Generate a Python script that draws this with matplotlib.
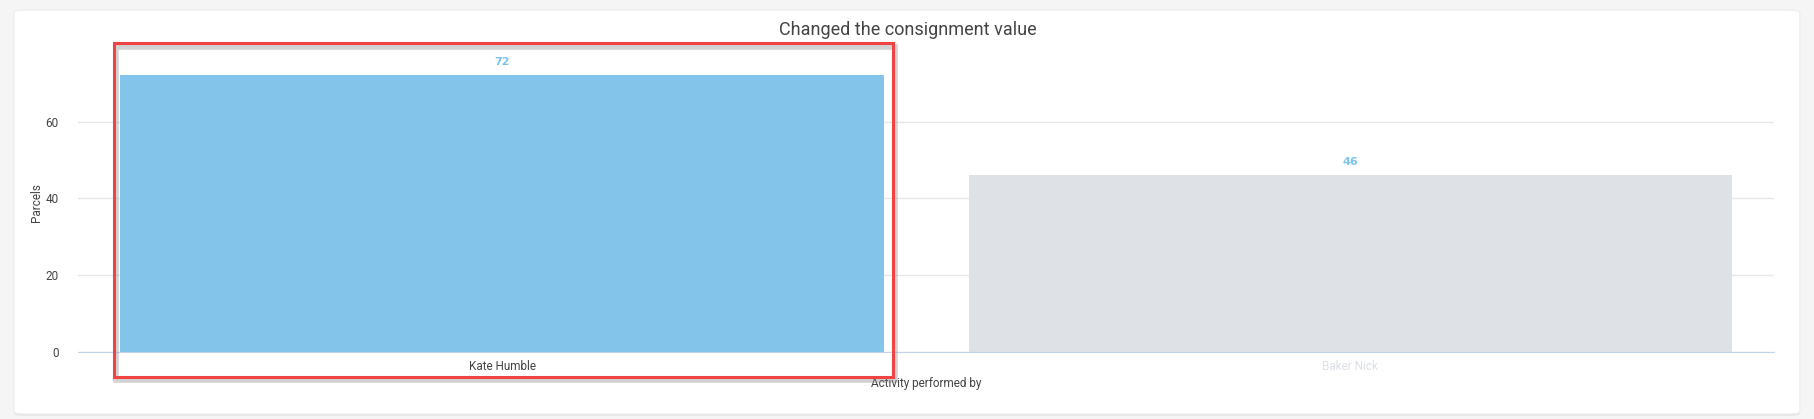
import matplotlib.pyplot as plt
import matplotlib.patheffects as pe
from matplotlib.patches import FancyBboxPatch, Rectangle

plt.rcParams['font.family'] = ['Roboto', 'DejaVu Sans']

title = "Changed the consignment value"
people = ["Kate Humble", "Baker Nick"]
parcels = [72, 46]
bar_colors = ["#83c5ea", "#dee1e6"]
tick_colors = ["#444444", "#dde0e6"]
yticks = [0, 20, 40, 60]

fig = plt.figure(figsize=(18.15, 4.19), dpi=100)
fig.patch.set_facecolor("#f5f5f5")

# white card behind the chart
card = FancyBboxPatch((0.0077, 0.012), 0.984, 0.964, boxstyle="round,pad=0,rounding_size=0.006",
                      transform=fig.transFigure, facecolor="white", edgecolor="#ececec",
                      linewidth=0.8, zorder=-5,
                      path_effects=[pe.SimplePatchShadow(offset=(0, -1.5), alpha=0.08), pe.Normal()])
fig.patches.append(card)

ax = fig.add_axes([0.043, 0.160, 0.9346, 0.715])
ax.set_facecolor("none")

x = range(len(people))
ax.bar(x, parcels, width=0.9, color=bar_colors, zorder=2)
for i, v in enumerate(parcels):
    ax.text(i, v + 2.2, str(v), ha="center", va="bottom", fontsize=8,
            fontweight="bold", family="DejaVu Sans", color="#7cc3ec", zorder=3)

ax.set_xlim(-0.5, len(people) - 0.5)
ax.set_ylim(0, 78)
ax.set_yticks(yticks)
ax.set_xticks(list(x))
ax.set_xticklabels(people)
ax.tick_params(axis="both", length=0, labelsize=8.5, colors="#444444")
ax.tick_params(axis="y", pad=14)
ax.tick_params(axis="x", pad=6)
for lbl, c in zip(ax.get_xticklabels(), tick_colors):
    lbl.set_color(c)

ax.grid(axis="y", color="#e6e6e6", linewidth=1, zorder=0)
for s in ["top", "right", "left"]:
    ax.spines[s].set_visible(False)
ax.spines["bottom"].set_color("#c3d3ea")
ax.spines["bottom"].set_zorder(2.5)

ax.set_ylabel("Parcels", fontsize=8.5, color="#444444", labelpad=2)
ax.set_xlabel("Activity performed by", fontsize=8.5, color="#444444", labelpad=3)
fig.text(0.5, 0.928, title, ha="center", va="center", fontsize=13, color="#444444")

# red highlight box round the first bar
hl = Rectangle((-0.458, -6.5), 0.919, 86.9, transform=ax.transData, fill=False,
               edgecolor="#f04343", linewidth=2.2, clip_on=False, zorder=5,
               path_effects=[pe.SimpleLineShadow(offset=(1.5, -2.5), shadow_color="gray",
                                                 alpha=0.35, linewidth=4), pe.Normal()])
ax.add_patch(hl)

fig.savefig("out.png", dpi=100, facecolor=fig.get_facecolor())
